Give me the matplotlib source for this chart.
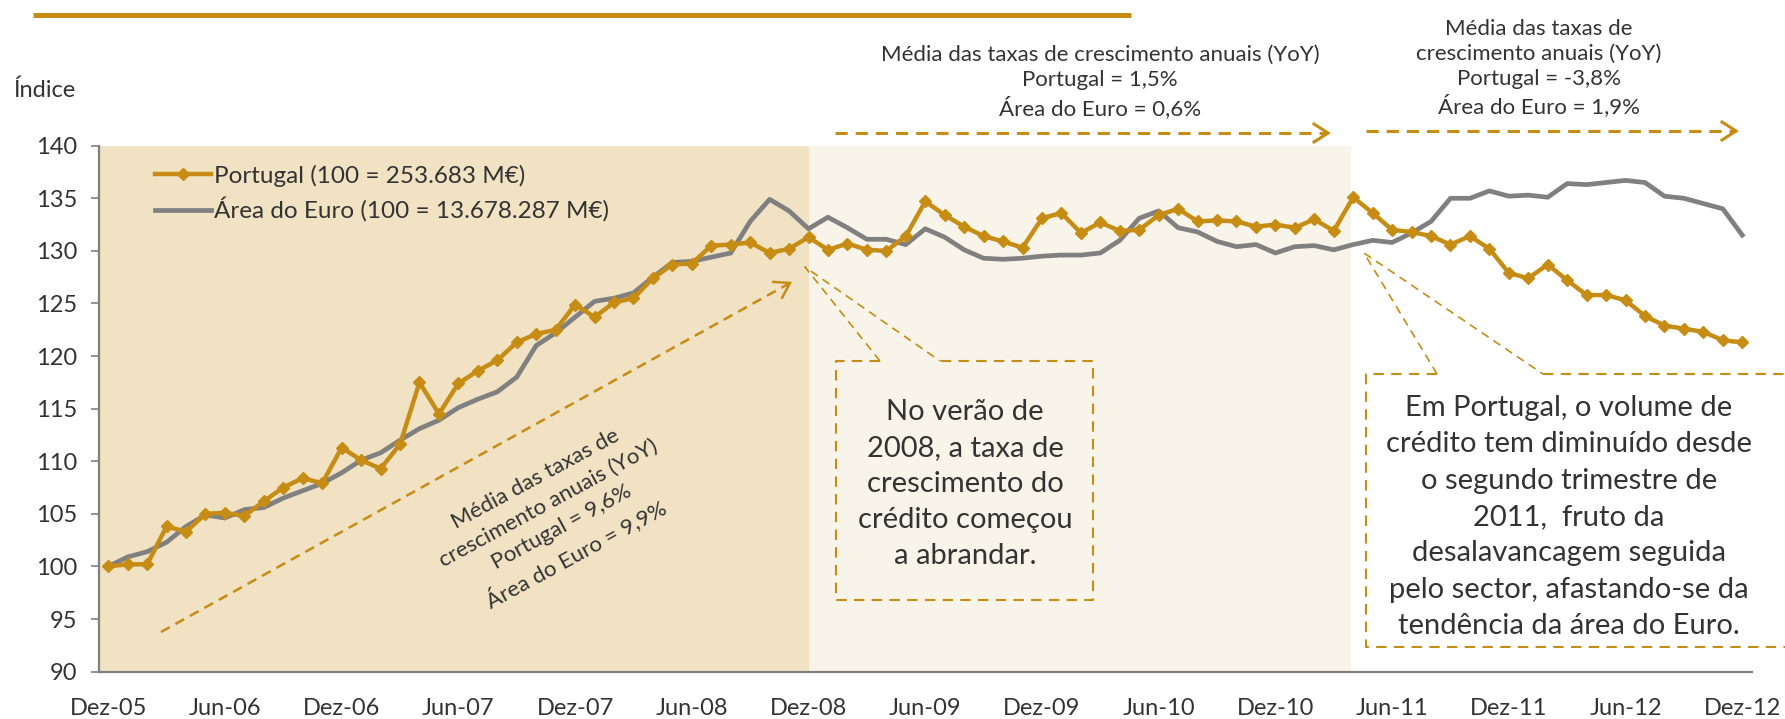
import numpy as np
import matplotlib
matplotlib.use("Agg")
import matplotlib.pyplot as plt
from matplotlib.lines import Line2D

# monthly index values, Dez-05 .. Dez-12 (Dez-05 = 100)
portugal = [100.0, 100.2, 100.2, 103.8, 103.3, 105.0, 105.1, 104.8, 106.2, 107.5,
            108.4, 107.9, 111.3, 110.1, 109.3, 111.6, 117.5, 114.5, 117.4, 118.6,
            119.6, 121.3, 122.1, 122.5, 124.9, 123.7, 125.1, 125.5, 127.4, 128.7,
            128.8, 130.5, 130.6, 130.8, 129.8, 130.2, 131.3, 130.1, 130.7, 130.1,
            130.0, 131.4, 134.7, 133.4, 132.3, 131.4, 130.9, 130.3, 133.1, 133.6,
            131.7, 132.7, 131.9, 132.0, 133.4, 134.0, 132.8, 132.9, 132.8, 132.3,
            132.5, 132.2, 133.0, 131.9, 135.1, 133.6, 132.0, 131.8, 131.4, 130.6,
            131.4, 130.2, 127.9, 127.4, 128.7, 127.2, 125.8, 125.8, 125.3, 123.8,
            122.9, 122.6, 122.3, 121.5, 121.3]
euro = [100.0, 100.9, 101.4, 102.3, 103.8, 104.9, 104.6, 105.4, 105.6, 106.5,
        107.2, 107.9, 108.9, 110.1, 110.8, 112.0, 113.1, 113.9, 115.1, 115.9,
        116.6, 118.0, 121.0, 122.2, 123.7, 125.2, 125.5, 126.0, 127.5, 128.9,
        129.0, 129.4, 129.8, 132.8, 134.9, 133.8, 132.1, 133.2, 132.2, 131.1,
        131.1, 130.6, 132.1, 131.3, 130.1, 129.3, 129.2, 129.3, 129.5, 129.6,
        129.6, 129.8, 131.0, 133.1, 133.8, 132.2, 131.8, 130.9, 130.4, 130.6,
        129.8, 130.4, 130.5, 130.1, 130.6, 131.0, 130.8, 131.7, 132.8, 135.0,
        135.0, 135.7, 135.2, 135.3, 135.1, 136.4, 136.3, 136.5, 136.7, 136.5,
        135.2, 135.0, 134.5, 134.0, 131.5]
tick_labels = ["Dez-05", "Jun-06", "Dez-06", "Jun-07", "Dez-07", "Jun-08", "Dez-08",
               "Jun-09", "Dez-09", "Jun-10", "Dez-10", "Jun-11", "Dez-11", "Jun-12", "Dez-12"]
periods = [36, 63.9]  # period boundaries (month index)

GOLD = "#C68C14"
GRAY = "#808080"
TAN_DARK = "#F0E2C3"
TAN_LIGHT = "#F9F4E9"
TXT = "#333333"

W, H = 1785, 719
fig = plt.figure(figsize=(W / 100, H / 100), dpi=100)
plt.rcParams["font.family"] = ["Lato", "DejaVu Sans"]

ax = fig.add_axes([98.5 / W, 1 - 671.6 / H, (1752 - 98.5) / W, (671.6 - 145.7) / H])
x = np.arange(len(portugal))
ax.axvspan(-0.5, periods[0], color=TAN_DARK, lw=0, zorder=0)
ax.axvspan(periods[0], periods[1], color=TAN_LIGHT, lw=0, zorder=0)
ax.plot(x, euro, color=GRAY, lw=3.4, zorder=3, solid_joinstyle="round")
ax.plot(x, portugal, color=GOLD, lw=3.2, marker="D", ms=6, zorder=4)
ax.set_xlim(-0.5, len(portugal) - 0.5)
ax.set_ylim(90, 140)
ax.set_yticks(np.arange(90, 141, 5))
ax.set_xticks(np.arange(0, len(portugal), 6))
ax.set_xticklabels(tick_labels)
ax.tick_params(axis="x", length=0, pad=19, labelsize=17, labelcolor=TXT)
ax.tick_params(axis="y", length=5.5, width=1.2, color=GRAY, pad=10, labelsize=17, labelcolor=TXT)
for s in ["top", "right"]:
    ax.spines[s].set_visible(False)
for s in ["left", "bottom"]:
    ax.spines[s].set_color(GRAY)
    ax.spines[s].set_linewidth(1.6)

handles = [Line2D([], [], color=GOLD, lw=3.2, marker="D", ms=6),
           Line2D([], [], color=GRAY, lw=3.4)]
ax.legend(handles, ["Portugal (100 = 253.683 M€)", "Área do Euro (100 = 13.678.287 M€)"],
          loc="upper left", bbox_to_anchor=(0.034, 0.9636), frameon=False, fontsize=17.5,
          handlelength=2.3, handletextpad=0.15, labelspacing=0.42, borderpad=0,
          borderaxespad=0, numpoints=1, labelcolor=TXT)

# overlay in pixel coordinates for annotations
ov = fig.add_axes([0, 0, 1, 1])
ov.set_xlim(0, W)
ov.set_ylim(H, 0)
ov.axis("off")
ov.patch.set_alpha(0)


def arrow(x0, y0, x1, y1, lw=2.2, head=14, half=9):
    ov.plot([x0, x1], [y0, y1], color=GOLD, lw=lw, ls=(0, (4, 2.6)))
    a = np.arctan2(y1 - y0, x1 - x0)
    ux, uy = np.cos(a), np.sin(a)
    hx, hy = x1 - head * ux, y1 - head * uy
    ov.plot([hx - half * uy, x1, hx + half * uy], [hy + half * ux, y1, hy - half * ux],
            color=GOLD, lw=lw, solid_joinstyle="miter")


def dashed(xs, ys, lw=1.5):
    ov.plot(xs, ys, color=GOLD, lw=lw, ls=(0, (5, 3.5)), clip_on=False)


# top bar
ov.plot([33, 1131], [15, 15], color=GOLD, lw=3.6, solid_capstyle="butt")
ov.text(13, 90, "Índice", fontsize=17, color=TXT, ha="left", va="center")

ov.text(1100, 82, "Média das taxas de crescimento anuais (YoY)\nPortugal = 1,5%\nÁrea do Euro = 0,6%",
        fontsize=16, color=TXT, ha="center", va="center", linespacing=1.31)
arrow(835, 133, 1328, 133)
ov.text(1539, 68, "Média das taxas de\ncrescimento anuais (YoY)\nPortugal = -3,8%\nÁrea do Euro = 1,9%",
        fontsize=16, color=TXT, ha="center", va="center", linespacing=1.31)
arrow(1366, 131, 1736, 131)

ov.text(556, 517, "Média das taxas de\ncrescimento anuais (YoY)\nPortugal = 9,6%\nÁrea do Euro = 9,9%",
        fontsize=16, color=TXT, ha="center", va="center", rotation=28.5,
        rotation_mode="anchor", linespacing=1.45)
arrow(161, 632, 790, 283, lw=1.8)

# callout box 1
dashed([880, 836, 836, 1093, 1093, 940], [361, 361, 600, 600, 361, 361])
dashed([880, 805, 940], [361, 267, 361], lw=1.2)
ov.text(965, 484, "No verão de\n2008, a taxa de\ncrescimento do\ncrédito começou\na abrandar.",
        fontsize=21, color=TXT, ha="center", va="center", linespacing=1.47)

# callout box 2
dashed([1437, 1366, 1366, 1790], [374, 374, 647, 647])
dashed([1543, 1790], [374, 374])
dashed([1437, 1364, 1543], [374, 253, 374], lw=1.2)
ov.text(1569, 517, "Em Portugal, o volume de\ncrédito tem diminuído desde\no segundo trimestre de\n"
        "2011,  fruto da\ndesalavancagem seguida\npelo sector, afastando-se da\ntendência da área do Euro.",
        fontsize=21, color=TXT, ha="center", va="center", linespacing=1.49)

fig.savefig("out.png", dpi=100)
